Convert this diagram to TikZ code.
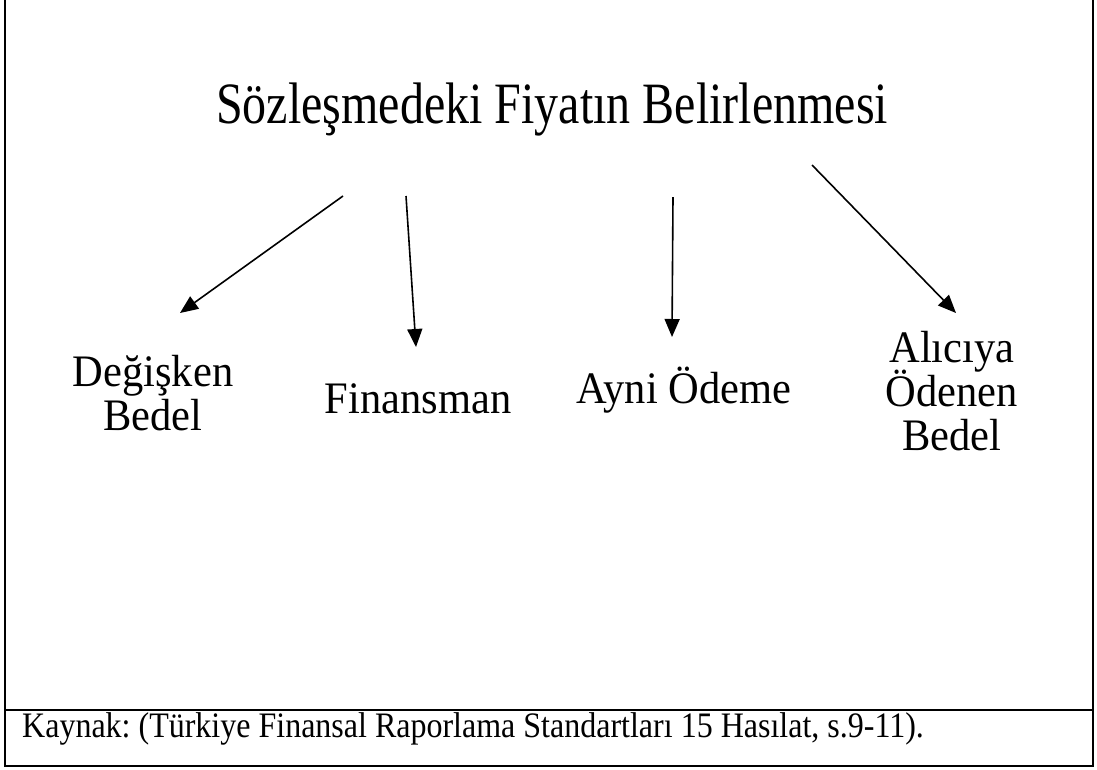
\documentclass[tikz,border=0pt]{standalone}
\usepackage{fontspec}
\usepackage{graphicx}
\setmainfont{Liberation Serif}
\usetikzlibrary{arrows.meta}
\newcommand\ystr[2]{\scalebox{1}[#1]{#2}}
\lineskiplimit=-100pt
\frenchspacing
\begin{document}
\begin{tikzpicture}[x=1pt,y=-1pt,
  frame/.style={line width=2.3pt},
  arr/.style={line width=1.6pt,-{Triangle[length=18pt,width=15pt]}},
  title/.style={font=\fontsize{48}{52}\selectfont,anchor=base,inner sep=0pt},
  lbl/.style={font=\fontsize{42.5}{44}\selectfont,anchor=base,inner sep=0pt,align=center},
  src/.style={font=\fontsize{32}{36}\selectfont,anchor=base west,inner sep=0pt}]
\useasboundingbox (0,0) rectangle (1097,769);
% frame (top edge cut off)
\coordinate (tl) at (5,-2);
\coordinate (tr) at (1093,-2);
\coordinate (bl) at (5,766);
\coordinate (br) at (1093,766);
\coordinate (dl) at (5,710);
\coordinate (dr) at (1093,710);
\draw[frame] (tl) -- (bl) -- (br) -- (tr);
\draw[frame] (dl) -- (dr);
% texts
\node[title] (t) at (552,123) {\ystr{1.22}{Sözleşmedeki Fiyatın Belirlenmesi}};
\node[lbl] (l1) at (153,430) {\ystr{1.06}{Değişken}\\\ystr{1.06}{Bedel}};
\node[lbl] (l2) at (418,413) {\ystr{1.06}{Finansman}};
\node[lbl] (l3) at (684,403) {\ystr{1.06}{Ayni Ödeme}};
\node[lbl] (l4) at (952,450) {\ystr{1.06}{Alıcıya}\\\ystr{1.06}{Ödenen}\\\ystr{1.06}{Bedel}};
\node[src] (s) at (22,737) {\ystr{1.12}{Kaynak: (Türkiye Finansal Raporlama Standartları 15 Hasılat, s.9-11).}};
% arrows
\coordinate (a1s) at (343,196); \coordinate (a1e) at (180,313);
\coordinate (a2s) at (406,196); \coordinate (a2e) at (416,347);
\coordinate (a3s) at (673,197); \coordinate (a3e) at (672,337);
\coordinate (a4s) at (812,165); \coordinate (a4e) at (956,313);
\draw[arr] (a1s) -- (a1e);
\draw[arr] (a2s) -- (a2e);
\draw[arr] (a3s) -- (a3e);
\draw[arr] (a4s) -- (a4e);
\end{tikzpicture}
\end{document}
